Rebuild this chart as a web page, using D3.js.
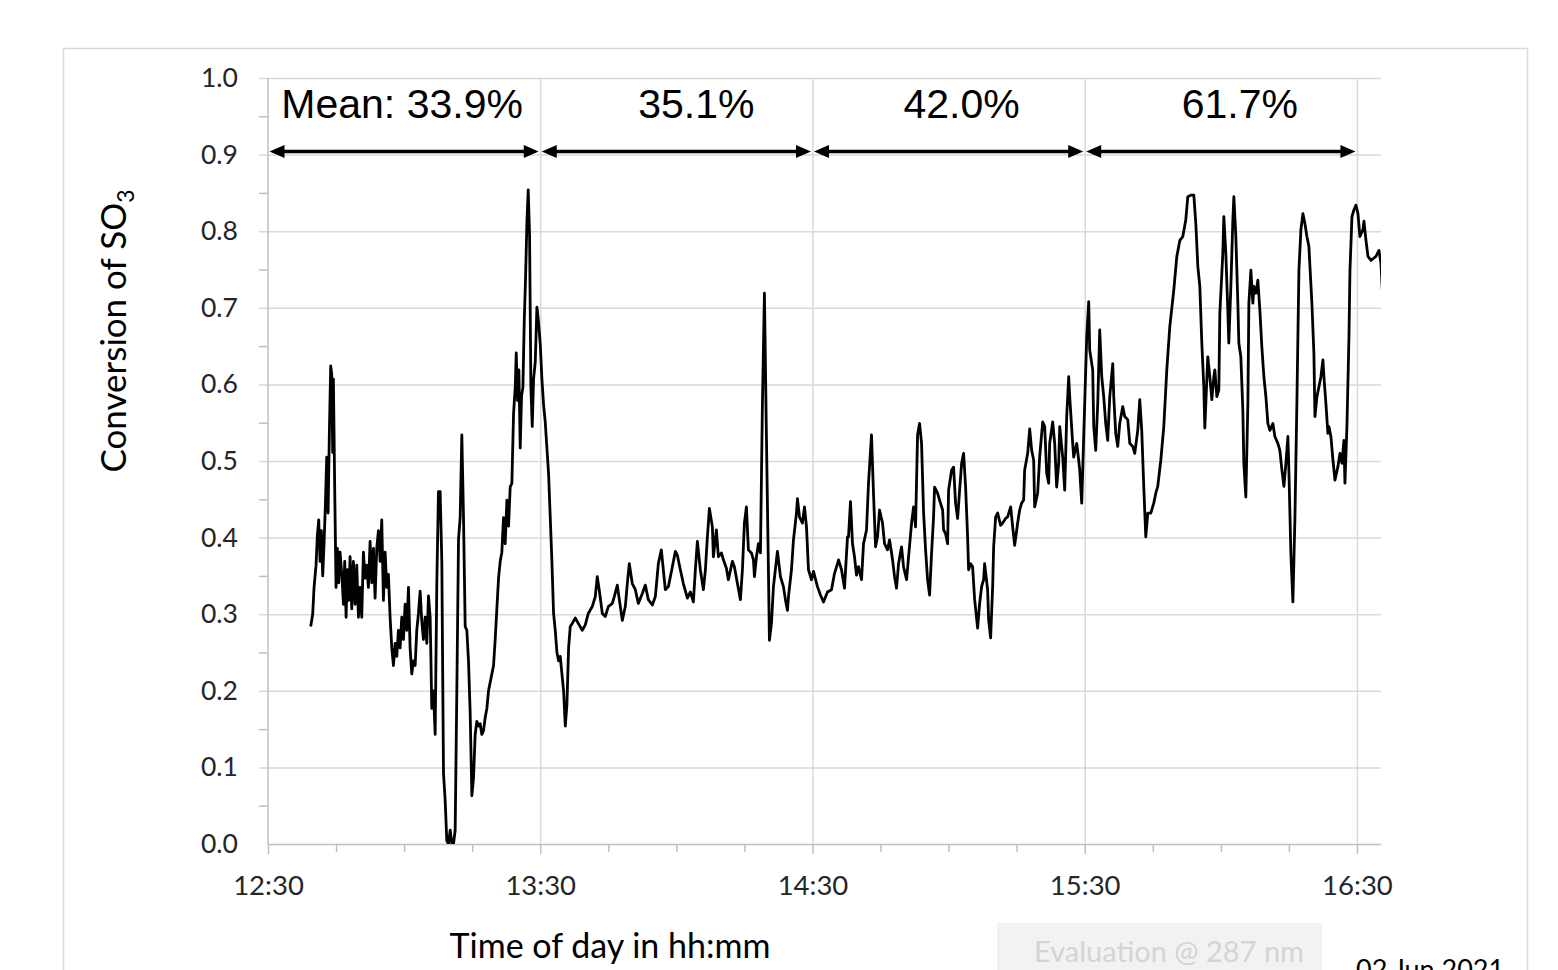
<!DOCTYPE html>
<html>
<head>
<meta charset="utf-8">
<script src="https://cdn.jsdelivr.net/npm/d3@7"></script>
<style>
  html, body { margin: 0; padding: 0; background: #ffffff; }
  svg { display: block; }
</style>
</head>
<body>
<svg id="chart" width="1558" height="970"></svg>
<script>
// Minutes elapsed since 12:30 for each measurement
const elapsedMin = [
  9.41, 9.85, 10.15, 10.59, 10.88, 11.18, 11.47, 11.76, 12.06, 12.35, 12.65, 12.94, 13.24, 13.53, 13.82, 14.04, 14.26, 14.41, 14.71, 15.00,
  15.29, 15.59, 15.88, 16.32, 16.62, 16.91, 17.21, 17.50, 17.79, 18.09, 18.46, 18.82, 19.19, 19.56, 19.93, 20.29, 20.66, 21.03, 21.40, 21.77,
  22.13, 22.50, 22.87, 23.24, 23.60, 23.97, 24.34, 24.71, 25.07, 25.44, 25.81, 26.18, 26.54, 26.91, 27.28, 27.65, 28.01, 28.38, 28.75, 29.12,
  29.48, 29.85, 30.22, 30.59, 30.96, 31.32, 31.69, 32.06, 32.43, 32.79, 33.16, 33.53, 33.90, 34.26, 34.63, 35.00, 35.37, 35.74, 36.10, 36.47,
  36.84, 37.21, 37.57, 37.94, 38.31, 38.68, 39.04, 39.41, 39.78, 40.15, 40.52, 40.88, 41.25, 41.62, 41.99, 42.35, 42.72, 43.09, 43.46, 43.82,
  44.19, 44.56, 44.93, 45.29, 45.66, 46.03, 46.40, 46.76, 47.13, 47.50, 47.87, 48.24, 48.60, 48.97, 49.34, 49.71, 50.07, 50.44, 50.81, 51.18,
  51.54, 51.91, 52.28, 52.65, 53.01, 53.38, 53.75, 54.12, 54.49, 54.71, 55.00, 55.29, 55.59, 55.88, 56.18, 56.47, 56.76, 57.06, 57.35, 57.65,
  57.94, 58.24, 58.53, 58.90, 59.27, 59.63, 60.00, 60.37, 60.74, 61.10, 61.47, 61.84, 62.21, 62.57, 62.94, 63.31, 63.68, 64.05, 64.41, 64.78,
  65.15, 65.52, 65.88, 66.25, 66.62, 67.06, 67.72, 68.38, 69.26, 69.93, 70.59, 71.47, 72.13, 72.57, 73.02, 73.68, 74.34, 75.00, 75.88, 76.32,
  76.99, 77.43, 78.09, 78.75, 79.19, 79.63, 80.29, 80.96, 81.62, 82.50, 83.16, 83.82, 84.71, 85.37, 86.03, 86.69, 87.13, 87.57, 88.24, 89.12,
  89.78, 90.22, 90.88, 91.54, 92.43, 93.09, 93.75, 94.19, 94.63, 95.29, 95.96, 96.40, 96.84, 97.28, 97.94, 98.16, 98.82, 99.26, 99.93, 100.37,
  101.03, 101.47, 102.35, 102.79, 103.46, 104.12, 104.56, 105.00, 105.44, 105.88, 106.54, 106.99, 107.21, 107.65, 108.09, 108.53, 108.97, 109.41, 109.85, 110.29,
  110.51, 110.96, 111.40, 112.06, 112.28, 112.94, 113.60, 114.04, 114.49, 114.71, 115.37, 115.81, 116.47, 116.69, 117.13, 117.79, 118.24, 118.68, 119.12, 119.78,
  120.22, 121.10, 121.76, 122.43, 123.31, 124.19, 124.85, 125.51, 125.74, 126.40, 127.06, 127.72, 127.94, 128.38, 128.82, 129.26, 129.71, 130.15, 130.81, 131.25,
  131.91, 132.35, 133.01, 133.46, 133.90, 134.34, 134.78, 135.44, 135.88, 136.54, 136.99, 137.65, 138.09, 138.53, 138.97, 139.63, 140.07, 140.74, 141.18, 141.84,
  142.28, 142.72, 143.16, 143.60, 144.04, 144.49, 144.93, 145.37, 145.81, 146.25, 146.69, 146.91, 147.57, 148.01, 148.68, 148.90, 149.34, 149.78, 150.00, 150.66,
  151.10, 151.54, 151.99, 152.43, 152.87, 153.31, 153.75, 154.19, 154.41, 154.85, 155.29, 155.74, 156.40, 156.84, 157.28, 157.72, 157.94, 158.60, 158.82, 159.26,
  159.71, 159.93, 160.37, 160.81, 161.47, 161.91, 162.57, 163.01, 163.68, 164.12, 164.56, 165.22, 165.66, 166.10, 166.54, 166.76, 167.43, 167.87, 168.31, 168.75,
  168.97, 169.63, 170.07, 170.74, 171.18, 171.62, 172.06, 172.28, 172.94, 173.38, 173.82, 174.26, 174.49, 175.15, 175.59, 176.03, 176.47, 176.69, 177.35, 177.57,
  178.24, 178.68, 178.90, 179.34, 179.78, 180.44, 180.88, 181.10, 181.76, 181.99, 182.43, 182.87, 183.31, 183.75, 184.19, 184.63, 185.07, 185.52, 186.18, 186.40,
  186.84, 187.28, 187.72, 188.38, 188.82, 189.49, 189.93, 190.59, 191.03, 191.69, 192.13, 192.57, 193.01, 193.46, 193.90, 194.56, 195.22, 195.66, 196.10, 196.77,
  197.43, 198.09, 198.75, 199.63, 200.30, 200.96, 201.62, 202.28, 202.72, 203.38, 204.05, 204.49, 204.93, 205.37, 205.81, 206.25, 206.47, 206.91, 207.13, 207.57,
  208.02, 208.46, 208.68, 209.12, 209.56, 209.78, 210.44, 210.66, 211.10, 211.54, 211.76, 212.21, 212.65, 212.87, 213.31, 213.75, 213.97, 214.41, 214.85, 215.07,
  215.51, 215.96, 216.18, 216.62, 217.06, 217.28, 217.72, 218.16, 218.60, 219.04, 219.49, 219.93, 220.37, 220.81, 221.47, 221.91, 222.57, 223.01, 223.46, 223.90,
  224.34, 224.78, 225.00, 225.44, 225.88, 226.32, 226.76, 227.21, 227.65, 228.09, 228.53, 228.97, 229.41, 230.07, 230.51, 230.74, 231.18, 231.62, 232.06, 232.50,
  232.72, 233.16, 233.60, 233.82, 234.26, 234.71, 235.15, 235.81, 236.25, 236.69, 237.13, 237.35, 237.79, 238.24, 238.46, 238.90, 239.34, 239.78, 240.22, 240.66,
  241.32, 241.54, 241.99, 242.43, 243.09, 243.75, 244.19, 244.85, 245.29, 245.74
];

// Conversion of SO3 (fraction) at each time
const so3Conversion = [
  0.284, 0.300, 0.335, 0.364, 0.403, 0.423, 0.369, 0.409, 0.350, 0.392, 0.443, 0.505, 0.432, 0.539, 0.624, 0.613, 0.511, 0.607, 0.460, 0.335,
  0.386, 0.341, 0.381, 0.347, 0.313, 0.369, 0.296, 0.358, 0.318, 0.375, 0.307, 0.369, 0.313, 0.364, 0.296, 0.335, 0.296, 0.381, 0.347, 0.364,
  0.335, 0.395, 0.341, 0.386, 0.321, 0.386, 0.409, 0.369, 0.423, 0.318, 0.381, 0.335, 0.352, 0.296, 0.256, 0.233, 0.262, 0.245, 0.279, 0.256,
  0.296, 0.267, 0.313, 0.279, 0.335, 0.256, 0.222, 0.239, 0.233, 0.279, 0.301, 0.330, 0.290, 0.267, 0.296, 0.262, 0.324, 0.296, 0.177, 0.200,
  0.143, 0.341, 0.460, 0.460, 0.369, 0.092, 0.058, 0.004, 0.000, 0.018, 0.000, 0.000, 0.018, 0.200, 0.398, 0.426, 0.534, 0.426, 0.284, 0.279,
  0.239, 0.171, 0.063, 0.086, 0.143, 0.160, 0.154, 0.157, 0.143, 0.148, 0.165, 0.177, 0.200, 0.211, 0.222, 0.233, 0.267, 0.307, 0.347, 0.369,
  0.381, 0.426, 0.392, 0.449, 0.415, 0.466, 0.471, 0.562, 0.596, 0.641, 0.579, 0.619, 0.517, 0.585, 0.596, 0.681, 0.738, 0.811, 0.854, 0.794,
  0.596, 0.545, 0.607, 0.629, 0.701, 0.681, 0.653, 0.607, 0.573, 0.551, 0.517, 0.483, 0.426, 0.369, 0.301, 0.279, 0.250, 0.239, 0.245, 0.222,
  0.200, 0.154, 0.182, 0.256, 0.284, 0.288, 0.295, 0.288, 0.279, 0.286, 0.301, 0.310, 0.323, 0.349, 0.331, 0.301, 0.297, 0.310, 0.314, 0.323,
  0.338, 0.319, 0.292, 0.310, 0.340, 0.366, 0.340, 0.332, 0.314, 0.327, 0.338, 0.319, 0.312, 0.323, 0.366, 0.384, 0.358, 0.332, 0.336, 0.362,
  0.382, 0.377, 0.358, 0.340, 0.321, 0.329, 0.316, 0.358, 0.395, 0.358, 0.332, 0.358, 0.401, 0.438, 0.414, 0.375, 0.410, 0.375, 0.380, 0.371,
  0.360, 0.345, 0.369, 0.362, 0.340, 0.319, 0.358, 0.419, 0.440, 0.384, 0.380, 0.371, 0.349, 0.375, 0.392, 0.380, 0.575, 0.719, 0.532, 0.358,
  0.266, 0.288, 0.336, 0.371, 0.382, 0.349, 0.336, 0.319, 0.305, 0.323, 0.358, 0.397, 0.432, 0.451, 0.427, 0.419, 0.440, 0.414, 0.358, 0.345,
  0.356, 0.336, 0.325, 0.316, 0.329, 0.332, 0.353, 0.366, 0.371, 0.358, 0.334, 0.401, 0.401, 0.447, 0.392, 0.375, 0.351, 0.362, 0.345, 0.392,
  0.410, 0.471, 0.534, 0.456, 0.388, 0.401, 0.436, 0.419, 0.392, 0.384, 0.397, 0.371, 0.349, 0.334, 0.366, 0.388, 0.362, 0.345, 0.375, 0.419,
  0.440, 0.414, 0.534, 0.549, 0.523, 0.432, 0.384, 0.345, 0.325, 0.380, 0.427, 0.466, 0.458, 0.449, 0.436, 0.410, 0.405, 0.392, 0.462, 0.488,
  0.492, 0.445, 0.425, 0.462, 0.497, 0.510, 0.466, 0.401, 0.358, 0.366, 0.362, 0.319, 0.282, 0.314, 0.336, 0.345, 0.366, 0.332, 0.293, 0.269,
  0.336, 0.388, 0.427, 0.432, 0.416, 0.419, 0.425, 0.427, 0.440, 0.414, 0.390, 0.419, 0.436, 0.445, 0.449, 0.488, 0.510, 0.542, 0.514, 0.501,
  0.440, 0.458, 0.505, 0.551, 0.545, 0.484, 0.471, 0.523, 0.551, 0.523, 0.466, 0.497, 0.545, 0.505, 0.462, 0.558, 0.610, 0.584, 0.523, 0.505,
  0.523, 0.501, 0.488, 0.445, 0.532, 0.662, 0.708, 0.645, 0.619, 0.545, 0.514, 0.575, 0.671, 0.610, 0.584, 0.549, 0.527, 0.584, 0.627, 0.584,
  0.536, 0.519, 0.549, 0.571, 0.558, 0.554, 0.523, 0.519, 0.510, 0.540, 0.580, 0.540, 0.467, 0.401, 0.432, 0.432, 0.445, 0.458, 0.467, 0.501,
  0.545, 0.619, 0.675, 0.723, 0.767, 0.788, 0.793, 0.815, 0.845, 0.847, 0.847, 0.810, 0.754, 0.728, 0.654, 0.597, 0.543, 0.606, 0.636, 0.610,
  0.580, 0.610, 0.619, 0.584, 0.593, 0.693, 0.771, 0.819, 0.771, 0.697, 0.654, 0.728, 0.815, 0.845, 0.793, 0.706, 0.654, 0.636, 0.567, 0.497,
  0.453, 0.575, 0.706, 0.749, 0.706, 0.728, 0.719, 0.736, 0.697, 0.649, 0.610, 0.584, 0.549, 0.540, 0.549, 0.532, 0.523, 0.514, 0.488, 0.467,
  0.497, 0.532, 0.488, 0.379, 0.316, 0.423, 0.575, 0.749, 0.802, 0.823, 0.810, 0.793, 0.780, 0.706, 0.641, 0.558, 0.584, 0.597, 0.610, 0.632,
  0.610, 0.575, 0.536, 0.545, 0.532, 0.501, 0.475, 0.493, 0.510, 0.497, 0.527, 0.471, 0.545, 0.662, 0.749, 0.819, 0.828, 0.834, 0.823, 0.793,
  0.802, 0.813, 0.788, 0.767, 0.762, 0.765, 0.767, 0.775, 0.758, 0.706
];

// Axis tick labels and the hourly periods with their mean conversion
const xTickLabels = ["12:30", "13:30", "14:30", "15:30", "16:30"];
const yTickValues = [0.0, 0.1, 0.2, 0.3, 0.4, 0.5, 0.6, 0.7, 0.8, 0.9, 1.0];
const periodStart = [0, 60, 120, 180];      // minutes after 12:30
const periodEnd = [60, 120, 180, 240];
const periodLabels = ["Mean: 33.9%", "35.1%", "42.0%", "61.7%"];

const series = elapsedMin.map((t, i) => ({ t, v: so3Conversion[i] }));

const svg = d3.select("#chart");
const W = 1558, H = 970;
const plot = { left: 268, right: 1381, top: 78, bottom: 844 };
const gridColor = "#d9d9d9";
const axisColor = "#bfbfbf";
const labelFont = "Lato, 'Open Sans', sans-serif";
const noteFont = "'Liberation Sans', Arial, sans-serif";

svg.append("rect").attr("width", W).attr("height", H).attr("fill", "#ffffff");

// Chart frame
svg.append("rect")
  .attr("x", 63.5).attr("y", 48.5)
  .attr("width", 1464).attr("height", 980)
  .attr("fill", "none").attr("stroke", gridColor).attr("stroke-width", 1.5);

const x = d3.scaleLinear().domain([0, 245.3]).range([plot.left, plot.right]);
const y = d3.scaleLinear().domain([0, 1]).range([plot.bottom, plot.top]);

// Horizontal gridlines with outward major ticks
svg.append("g").attr("class", "y-grid")
  .attr("transform", `translate(${plot.left},0)`)
  .call(d3.axisLeft(y).tickValues(yTickValues.filter(v => v > 0))
    .tickSize(-(plot.right - plot.left)).tickFormat(""))
  .call(g => g.select(".domain").remove())
  .call(g => g.selectAll(".tick line").attr("stroke", gridColor).attr("stroke-width", 1.5)
    .attr("x1", -9));

// Minor ticks on the value axis
svg.append("g").attr("class", "y-minor")
  .attr("transform", `translate(${plot.left},0)`)
  .call(d3.axisLeft(y).tickValues(d3.range(0.05, 1, 0.1)).tickSize(9).tickFormat(""))
  .call(g => g.select(".domain").remove())
  .call(g => g.selectAll(".tick line").attr("stroke", axisColor).attr("stroke-width", 1.5));

// Vertical gridlines on the hours
svg.append("g").attr("class", "x-grid")
  .attr("transform", `translate(0,${plot.bottom})`)
  .call(d3.axisBottom(x).tickValues([60, 120, 180, 240])
    .tickSize(-(plot.bottom - plot.top)).tickFormat(""))
  .call(g => g.select(".domain").remove())
  .call(g => g.selectAll(".tick line").attr("stroke", gridColor).attr("stroke-width", 1.5));

// Value axis line
svg.append("line")
  .attr("x1", plot.left).attr("x2", plot.left)
  .attr("y1", plot.top).attr("y2", plot.bottom)
  .attr("stroke", axisColor).attr("stroke-width", 1.5);

// Value axis labels
svg.append("g").attr("class", "y-axis")
  .attr("transform", `translate(${plot.left},0)`)
  .call(d3.axisLeft(y).tickValues(yTickValues).tickSize(0).tickPadding(30)
    .tickFormat(d3.format(".1f")))
  .call(g => g.select(".domain").remove())
  .call(g => g.selectAll("text")
    .attr("font-family", labelFont).attr("font-size", 26.5).attr("fill", "#262626"));

// Time axis: minor ticks every 15 min, labelled ticks each hour
svg.append("g").attr("class", "x-minor")
  .attr("transform", `translate(0,${plot.bottom})`)
  .call(d3.axisBottom(x).tickValues(d3.range(0, 246, 15).filter(m => m % 60 !== 0))
    .tickSize(8).tickFormat(""))
  .call(g => g.select(".domain").remove())
  .call(g => g.selectAll(".tick line").attr("stroke", axisColor).attr("stroke-width", 1.5));

svg.append("g").attr("class", "x-axis")
  .attr("transform", `translate(0,${plot.bottom})`)
  .call(d3.axisBottom(x).tickValues([0, 60, 120, 180, 240]).tickSize(10).tickPadding(21)
    .tickFormat((d, i) => xTickLabels[i]))
  .call(g => g.select(".domain").attr("d", `M${plot.left},0.5H${plot.right}`)
    .attr("stroke", axisColor).attr("stroke-width", 1.5))
  .call(g => g.selectAll(".tick line").attr("stroke", axisColor).attr("stroke-width", 1.5))
  .call(g => g.selectAll("text")
    .attr("font-family", labelFont).attr("font-size", 27.5).attr("fill", "#262626"));

// Measured conversion trace
svg.append("clipPath").attr("id", "plot-clip")
  .append("rect")
  .attr("x", plot.left).attr("y", plot.top - 5)
  .attr("width", plot.right - plot.left).attr("height", plot.bottom - plot.top + 5);

const line = d3.line().x(d => x(d.t)).y(d => y(d.v));
svg.append("path")
  .datum(series)
  .attr("clip-path", "url(#plot-clip)")
  .attr("d", line)
  .attr("fill", "none")
  .attr("stroke", "#000000")
  .attr("stroke-width", 2.8)
  .attr("stroke-linejoin", "round");

// Double-headed arrows spanning each hourly period
const arrowY = y(0.904);
const head = 15, halfW = 6.5;
const arrows = svg.append("g").attr("class", "periods");
periodStart.forEach((s, i) => {
  const x0 = x(s) + 1.5, x1 = x(periodEnd[i]) - 1.5;
  arrows.append("line")
    .attr("x1", x0 + head - 2).attr("x2", x1 - head + 2)
    .attr("y1", arrowY).attr("y2", arrowY)
    .attr("stroke", "#000").attr("stroke-width", 3.5);
  arrows.append("path")
    .attr("d", `M${x0},${arrowY}L${x0 + head},${arrowY - halfW}L${x0 + head},${arrowY + halfW}Z`)
    .attr("fill", "#000");
  arrows.append("path")
    .attr("d", `M${x1},${arrowY}L${x1 - head},${arrowY - halfW}L${x1 - head},${arrowY + halfW}Z`)
    .attr("fill", "#000");
});

// Period means
const labelCenters = [
  (x(0) + x(60)) / 2 - 2,
  (x(60) + x(120)) / 2 + 20,
  (x(120) + x(180)) / 2 + 13,
  (x(180) + x(240)) / 2 + 19
];
svg.append("g").attr("class", "period-labels")
  .selectAll("text").data(periodLabels).join("text")
  .attr("x", (d, i) => labelCenters[i])
  .attr("y", 118)
  .attr("text-anchor", "middle")
  .attr("font-family", noteFont)
  .attr("font-size", 41)
  .attr("fill", "#000")
  .text(d => d);

// Axis titles
svg.append("text")
  .attr("x", 610).attr("y", 958)
  .attr("text-anchor", "middle")
  .attr("font-family", labelFont).attr("font-size", 34).attr("fill", "#000")
  .text("Time of day in hh:mm");

const yTitle = svg.append("text")
  .attr("transform", "translate(126,331) rotate(-90)")
  .attr("text-anchor", "middle")
  .attr("font-family", labelFont).attr("font-size", 35).attr("fill", "#000");
yTitle.append("tspan").text("Conversion of SO");
yTitle.append("tspan").attr("font-size", 23).attr("dy", 8).text("3");

// Footer notes
svg.append("rect")
  .attr("x", 997).attr("y", 923).attr("width", 325).attr("height", 60)
  .attr("fill", "#f2f2f2");
svg.append("text")
  .attr("x", 1169).attr("y", 962)
  .attr("text-anchor", "middle")
  .attr("font-family", labelFont).attr("font-size", 29).attr("fill", "#d4d4d4")
  .text("Evaluation @ 287 nm");
svg.append("text")
  .attr("x", 1356).attr("y", 979)
  .attr("font-family", labelFont).attr("font-size", 27).attr("fill", "#000")
  .text("02 Jun 2021");
</script>
</body>
</html>
